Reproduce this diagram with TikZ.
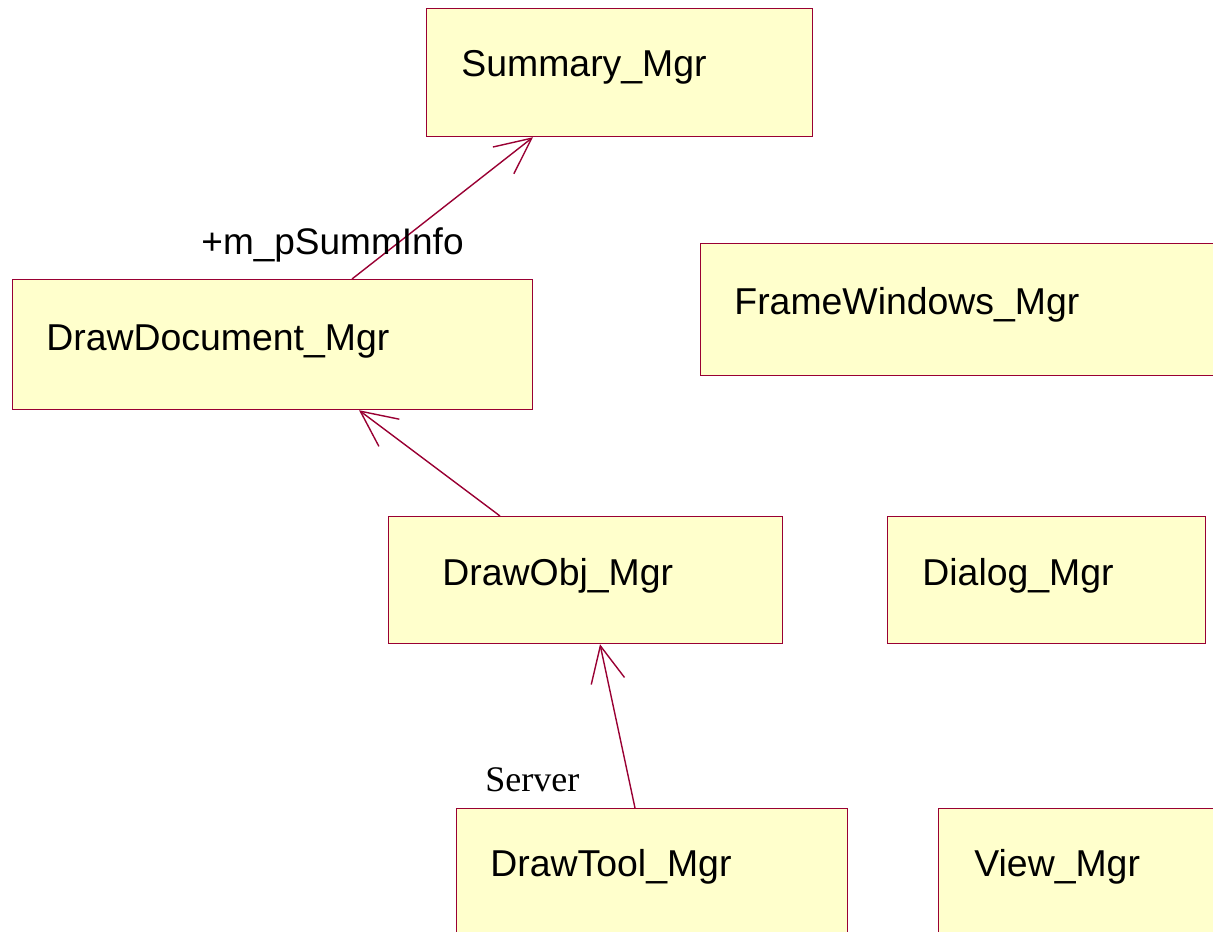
\documentclass[tikz,border=0pt]{standalone}
\usepackage{fontspec}
\setmainfont{Liberation Sans}
\newfontfamily\serifface{Liberation Serif}
\usetikzlibrary{arrows.meta}
\definecolor{classfill}{RGB}{255,255,204}
\definecolor{classline}{RGB}{153,0,51}
\tikzset{
  classbox/.style={draw=classline, fill=classfill, line width=0.6pt, inner sep=0pt, anchor=north west},
  classname/.style={anchor=base west, inner sep=0pt, font=\fontsize{18.7pt}{20pt}\selectfont},
  rolelabel/.style={anchor=base west, inner sep=0pt, font=\fontsize{18.5pt}{20pt}\selectfont},
  servlabel/.style={anchor=base west, inner sep=0pt, font=\serifface\fontsize{18pt}{20pt}\selectfont},
  assoc/.style={draw=classline, line width=0.7pt, -{Straight Barb[length=18pt, width=17pt]}}
}
\begin{document}
\begin{tikzpicture}[x=0.5pt, y=-0.5pt]
\useasboundingbox (0,0) rectangle (1213,931);
\clip (0,0) rectangle (1213,931);

% class boxes
\node[classbox, minimum width=193pt, minimum height=64pt] (sum) at (426,8) {};
\node[classbox, minimum width=260pt, minimum height=65pt] (doc) at (12,279) {};
\node[classbox, minimum width=290pt, minimum height=66pt] (frame) at (700,243) {};
\node[classbox, minimum width=197pt, minimum height=63.5pt] (obj) at (388,516) {};
\node[classbox, minimum width=159pt, minimum height=63.5pt] (dlg) at (887,516) {};
\node[classbox, minimum width=195.5pt, minimum height=70pt] (tool) at (456,808) {};
\node[classbox, minimum width=150pt, minimum height=70pt] (view) at (938,808) {};

% class names
\node[classname] (sumtxt) at (461,76) {Summary\_Mgr};
\node[classname] (doctxt) at (46,350) {DrawDocument\_Mgr};
\node[classname] (frametxt) at (734,314) {FrameWindows\_Mgr};
\node[classname] (objtxt) at (442,585) {DrawObj\_Mgr};
\node[classname] (dlgtxt) at (922,585) {Dialog\_Mgr};
\node[classname] (tooltxt) at (490,876) {DrawTool\_Mgr};
\node[classname] (viewtxt) at (974,876) {View\_Mgr};

% associations
\draw[assoc] ([xshift=170pt]doc.north west) -- ([xshift=53.5pt]sum.south west);
\draw[assoc] ([xshift=56pt]obj.north west) -- ([xshift=173.5pt]doc.south west);
\draw[assoc] ([xshift=89.5pt]tool.north west) -- ([xshift=106pt]obj.south west);

% role labels
\node[rolelabel] (role) at (201,254) {+m\_pSummInfo};
\node[servlabel] (server) at (485,791) {Server};
\end{tikzpicture}
\end{document}
